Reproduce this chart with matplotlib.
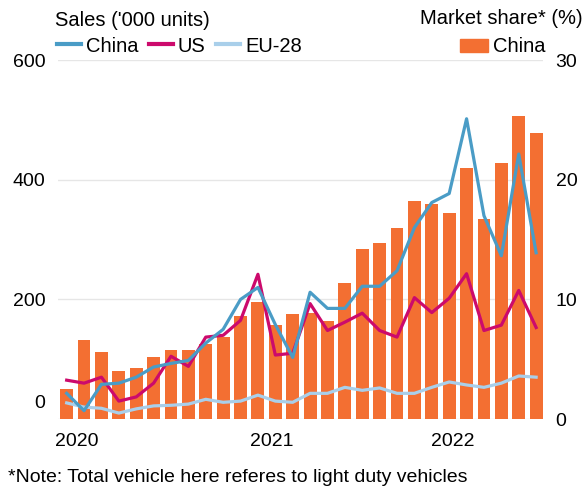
import matplotlib
matplotlib.use("Agg")
import matplotlib.pyplot as plt
import matplotlib.transforms as mtransforms
from matplotlib.lines import Line2D
from matplotlib.patches import Patch
import numpy as np

plt.rcParams['font.family'] = ['Liberation Sans', 'DejaVu Sans']

# Jan 2020 -> Apr 2022
months = [f"{y}-{m:02d}" for y in (2020, 2021, 2022) for m in range(1, 13)][:28]

# market share of China (%), right axis
share_china = [2.5, 6.6, 5.6, 4.0, 4.3, 5.2, 5.75, 5.75, 6.3, 6.9, 8.6, 9.75,
               7.9, 8.8, 8.9, 8.2, 11.4, 14.2, 14.75, 16.0, 18.25, 18.0, 17.25, 21.0,
               16.75, 21.4, 25.3, 23.9]

# sales ('000 units), left axis
sales_china = [43, 14, 58, 60, 70, 87, 93, 98, 127, 150, 200, 220,
               158, 103, 212, 185, 185, 222, 222, 248, 320, 362, 377, 502,
               340, 273, 443, 278]
sales_us = [65, 60, 70, 30, 37, 60, 105, 88, 137, 140, 165, 242,
            107, 110, 193, 148, 162, 177, 148, 137, 203, 178, 202, 243,
            148, 157, 215, 153]
sales_eu = [27, 20, 18, 10, 17, 22, 23, 25, 33, 28, 30, 40,
            30, 28, 43, 43, 53, 48, 52, 43, 43, 53, 62, 57,
            53, 60, 72, 70]

year_ticks = [0.6, 11.8, 22.2]
year_labels = ['2020', '2021', '2022']

c_china = '#4a9cc6'
c_us = '#cc0a6c'
c_eu = '#a9cfea'
c_bar = '#f36f32'

fs = 14.5

fig = plt.figure(figsize=(5.88, 4.93), dpi=100)
ax2 = fig.add_axes([0.0986, 0.150, 0.825, 0.728])
ax = ax2.twinx()
# put the lines axis in front of the bars
ax.set_zorder(ax2.get_zorder() + 1)
ax.patch.set_visible(False)

x = np.arange(len(months))
ax2.bar(x, share_china, width=0.74, color=c_bar, zorder=2)
ax2.set_ylim(0, 30)
ax2.set_yticks([0, 10, 20, 30])
ax2.yaxis.tick_right()
ax2.grid(axis='y', color='#e6e6e6', linewidth=1)
ax2.set_axisbelow(True)

ax.plot(x, sales_eu, color=c_eu, lw=2.3)
ax.plot(x, sales_us, color=c_us, lw=2.3)
ax.plot(x, sales_china, color=c_china, lw=2.3)
ax.set_ylim(0, 600)
ax.set_yticks([0, 200, 400, 600])
ax.yaxis.tick_left()

ax.set_xlim(-0.5, 27.4)
ax2.set_xlim(-0.5, 27.4)
ax2.set_xticks(year_ticks)
ax2.set_xticklabels(year_labels)

for a in (ax, ax2):
    for s in a.spines.values():
        s.set_visible(False)
    a.tick_params(length=0, labelsize=14)
ax.tick_params(axis='y', pad=9)
ax2.tick_params(axis='y', pad=9)
ax2.tick_params(axis='x', pad=10)

# left "0" label sits a bit higher in the original
lab0 = ax.get_yticklabels()[0]
lab0.set_transform(lab0.get_transform() + mtransforms.ScaledTranslation(0, 18 / 100, fig.dpi_scale_trans))

fig.text(55 / 588, 1 - 20 / 493, "Sales ('000 units)", fontsize=fs, va='center', ha='left')
fig.text(583 / 588, 1 - 19 / 493, "Market share* (%)", fontsize=fs, va='center', ha='right')

handles = [Line2D([], [], color=c_china, lw=3),
           Line2D([], [], color=c_us, lw=3),
           Line2D([], [], color=c_eu, lw=3)]
fig.legend(handles, ['China', 'US', 'EU-28'], ncol=3, frameon=False, fontsize=fs,
           loc='center left', bbox_to_anchor=(57 / 588, 1 - 46 / 493),
           handlelength=1.2, handletextpad=0.25, columnspacing=0.5, borderpad=0, borderaxespad=0)
fig.legend([Patch(color=c_bar)], ['China'], frameon=False, fontsize=fs,
           loc='center right', bbox_to_anchor=(545 / 588, 1 - 47 / 493),
           handlelength=1.4, handleheight=0.6, handletextpad=0.2, borderpad=0, borderaxespad=0)

fig.text(8 / 588, 1 - 478 / 493, "*Note: Total vehicle here referes to light duty vehicles",
         fontsize=14, va='center', ha='left')

fig.savefig('out.png', dpi=100)
